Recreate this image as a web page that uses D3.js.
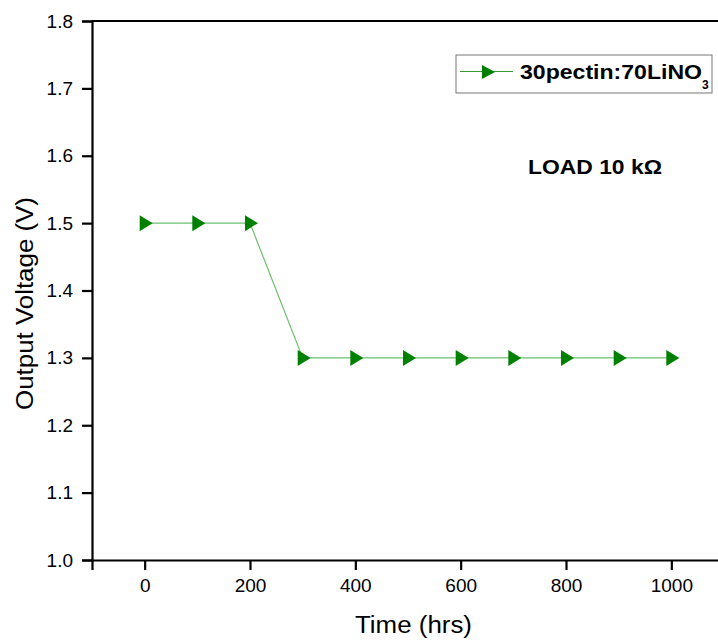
<!DOCTYPE html>
<html><head><meta charset="utf-8">
<script src="https://cdn.jsdelivr.net/npm/d3@7"></script>
<style>body{margin:0;background:#fff}svg{display:block}</style>
</head><body>
<svg id="c" width="718" height="641"></svg>
<script>
const times = [0,100,200,300,400,500,600,700,800,900,1000];
const voltages = [1.5,1.5,1.5,1.3,1.3,1.3,1.3,1.3,1.3,1.3,1.3];
const xTicks = [0,200,400,600,800,1000];
const yTicks = [1.0,1.1,1.2,1.3,1.4,1.5,1.6,1.7,1.8];
const seriesName = "30pectin:70LiNO";

const svg = d3.select("#c");
const x = d3.scaleLinear().domain([-100,1100]).range([92,724]);
const y = d3.scaleLinear().domain([1.0,1.8]).range([560,21]);
const font = "Arial, 'Liberation Sans', sans-serif";

// top frame line
svg.append("line").attr("x1",92).attr("x2",724).attr("y1",21).attr("y2",21)
  .attr("stroke","#000").attr("stroke-width",2.2);

const xa = svg.append("g").attr("transform","translate(0,560)")
  .call(d3.axisBottom(x).tickValues(xTicks).tickSize(10).tickPadding(9).tickFormat(d3.format("d")));
const ya = svg.append("g").attr("transform","translate(92,0)")
  .call(d3.axisLeft(y).tickValues(yTicks).tickSize(10).tickPadding(9).tickFormat(d3.format(".1f")));
[xa,ya].forEach(g=>{
  g.select(".domain").attr("stroke-width",2.2);
  g.selectAll(".tick line").attr("stroke-width",2.2);
  g.selectAll(".tick text").attr("font-family",font).attr("font-size",19).attr("fill","#000");
});

svg.append("text").attr("x",413.5).attr("y",633).attr("text-anchor","middle")
  .attr("font-family",font).attr("font-size",23)
  .attr("textLength",117).attr("lengthAdjust","spacingAndGlyphs").text("Time (hrs)");
svg.append("text").attr("transform","translate(33,303.5) rotate(-90)").attr("text-anchor","middle")
  .attr("font-family",font).attr("font-size",23)
  .attr("textLength",213).attr("lengthAdjust","spacingAndGlyphs").text("Output Voltage (V)");

const data = times.map((t,i)=>({t,v:voltages[i]}));
svg.append("path").datum(data)
  .attr("d",d3.line().x(d=>x(d.t)).y(d=>y(d.v)))
  .attr("fill","none").attr("stroke","#6dbf6d").attr("stroke-width",1.2);

const tri = "M-5,-8 L8,0 L-5,8 Z";
svg.selectAll(".m").data(data).enter().append("path")
  .attr("transform",d=>`translate(${x(d.t)},${y(d.v)})`)
  .attr("d",tri).attr("fill","#008000");

svg.append("text").attr("x",528).attr("y",174)
  .attr("font-family",font).attr("font-size",20).attr("font-weight","bold")
  .attr("textLength",134).attr("lengthAdjust","spacingAndGlyphs").text("LOAD 10 kΩ");

// legend
const lg = svg.append("g");
lg.append("rect").attr("x",456).attr("y",55).attr("width",256).attr("height",38)
  .attr("fill","#fff").attr("stroke","#777").attr("stroke-width",1);
lg.append("line").attr("x1",460).attr("x2",513).attr("y1",71.5).attr("y2",71.5)
  .attr("stroke","#3a9a3a").attr("stroke-width",1);
lg.append("path").attr("transform","translate(487,72)").attr("d","M-5,-7 L8,0 L-5,7 Z").attr("fill","#008000");
const lt = lg.append("text").attr("x",520).attr("y",79)
  .attr("font-family",font).attr("font-size",20).attr("font-weight","bold");
lt.append("tspan").attr("textLength",182).attr("lengthAdjust","spacingAndGlyphs").text(seriesName);
lt.append("tspan").attr("font-size",12).attr("dy",10).text("3");
</script>
</body></html>
